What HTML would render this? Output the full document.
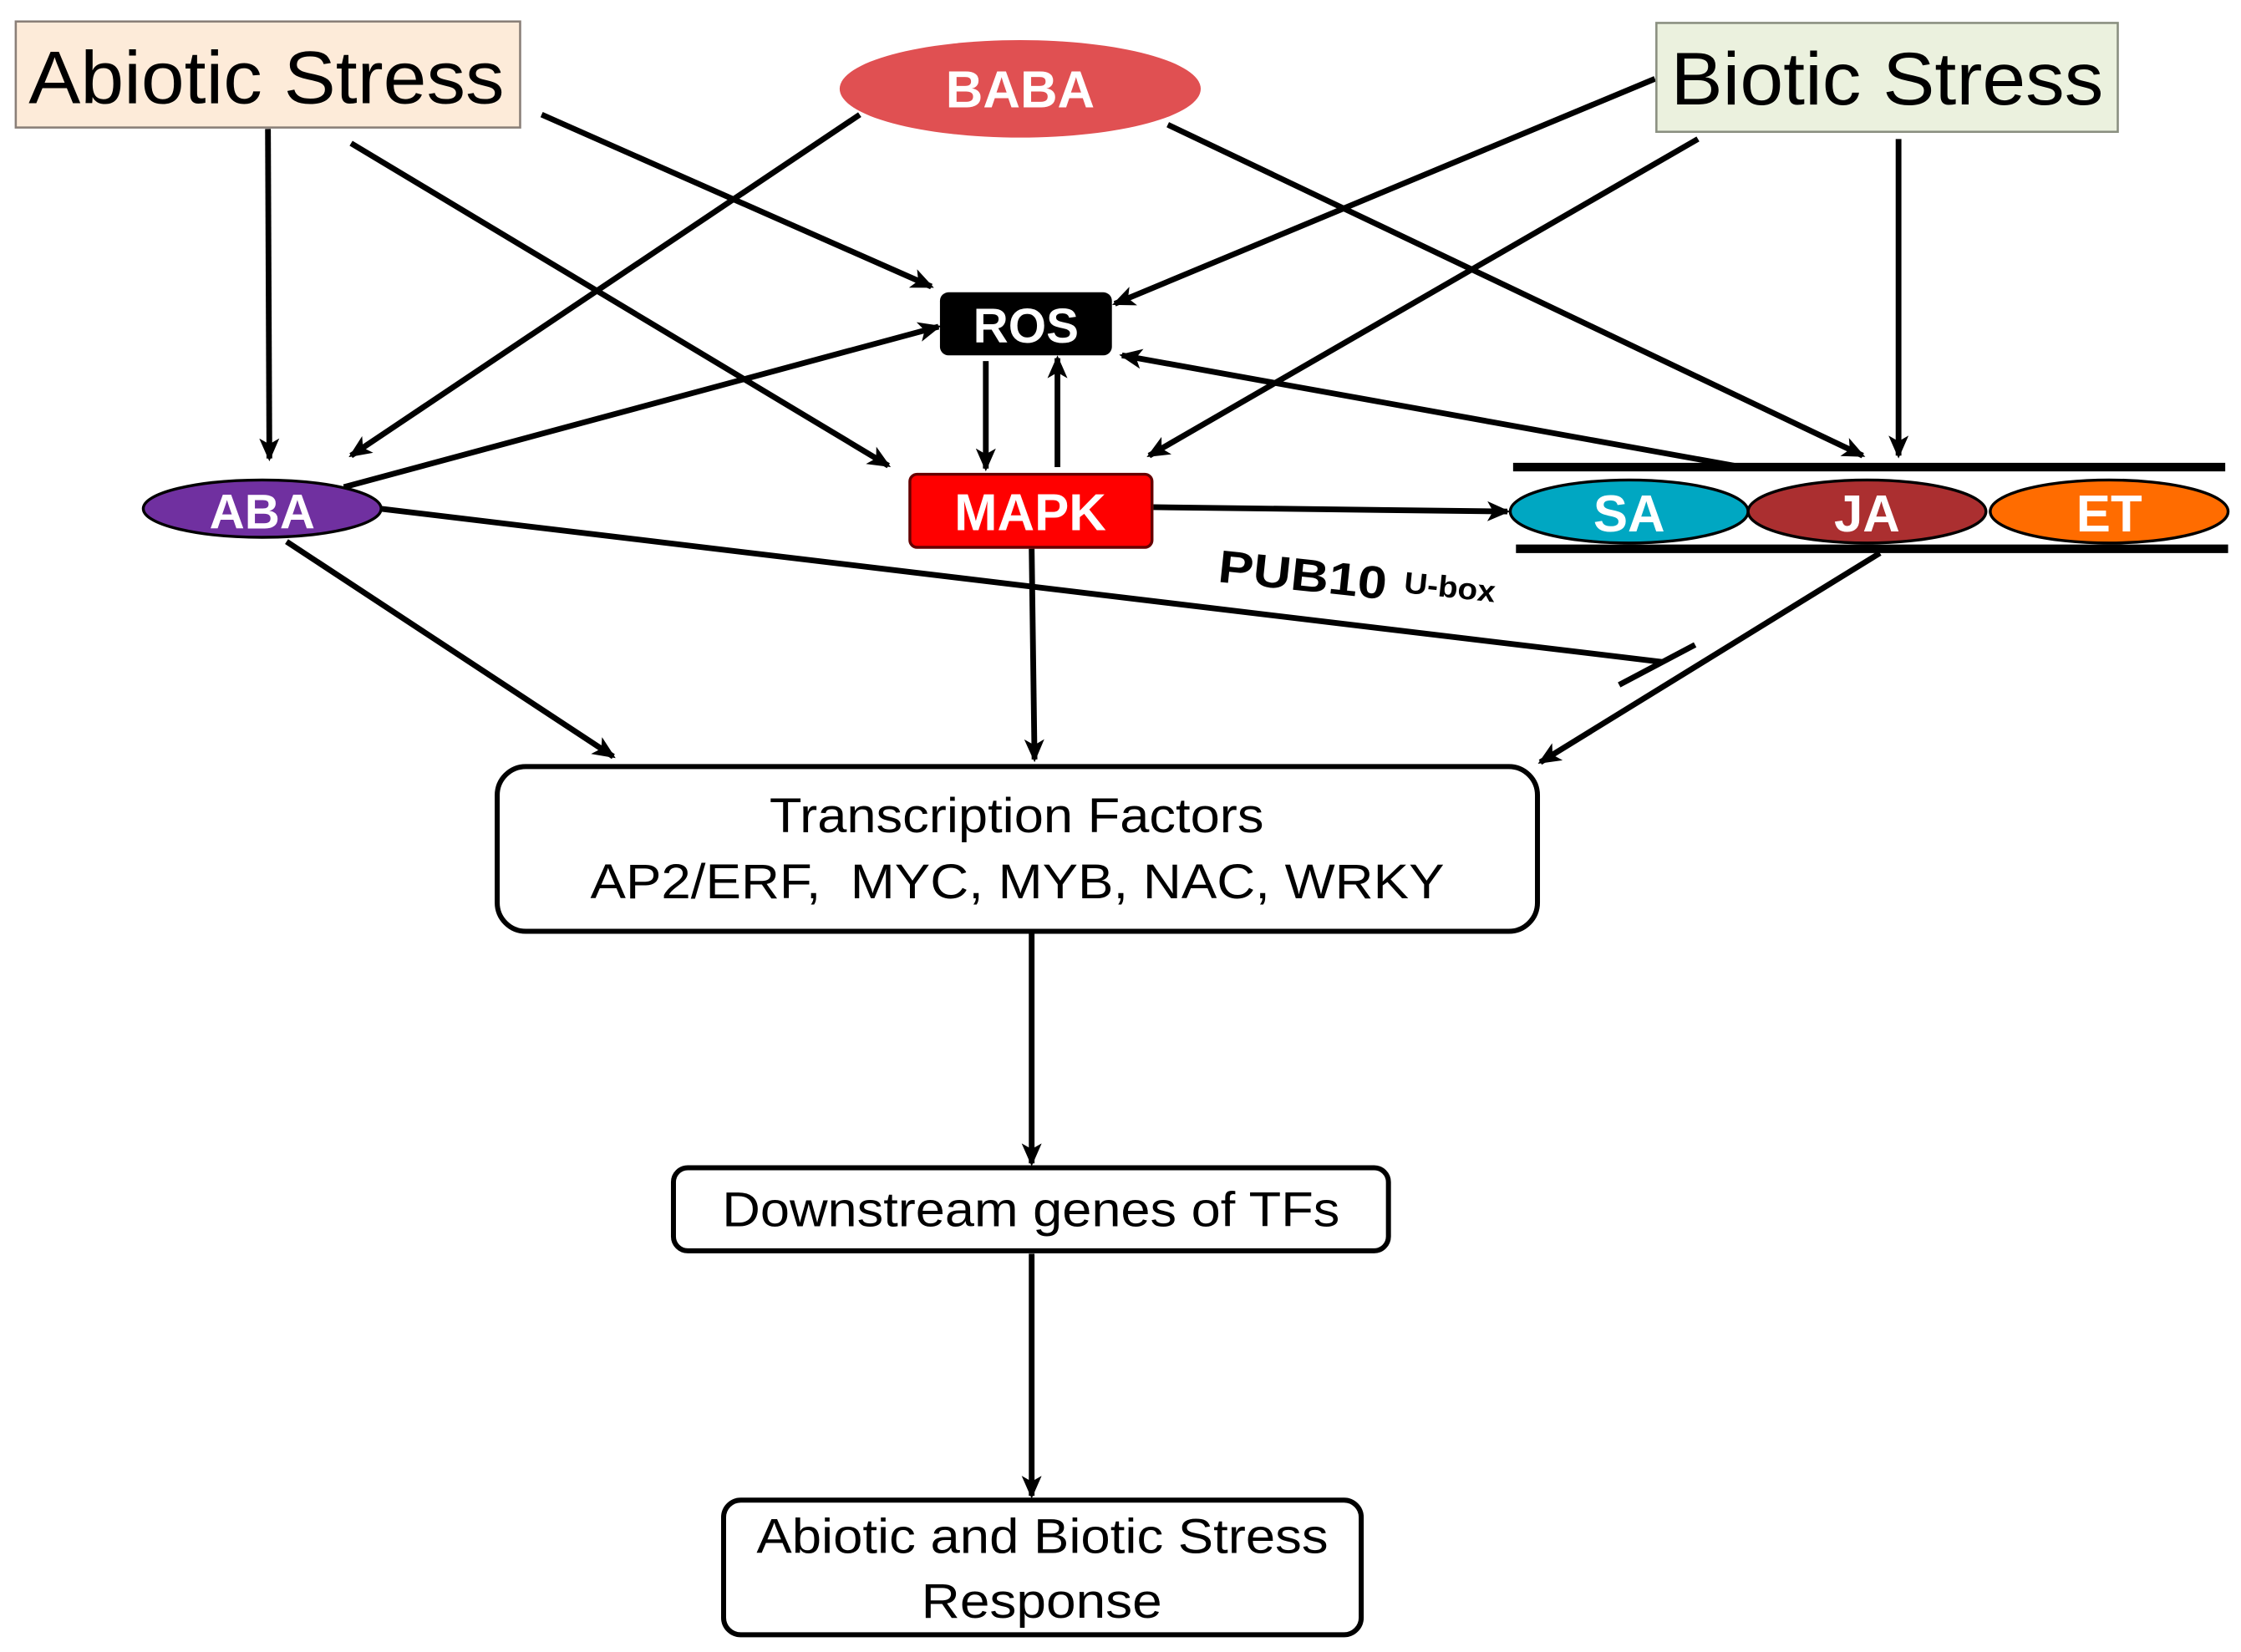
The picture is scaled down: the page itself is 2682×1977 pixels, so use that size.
<!DOCTYPE html>
<html><head><meta charset="utf-8"><style>html,body{margin:0;padding:0;background:#fff}svg{display:block}</style></head>
<body>
<svg width="2682" height="1977" viewBox="0 0 1564 1153" preserveAspectRatio="none" xmlns="http://www.w3.org/2000/svg" font-family="Liberation Sans, Arial, sans-serif">
<defs>
<marker id="b" markerWidth="16" markerHeight="14" refX="14" refY="7" orient="auto" markerUnits="userSpaceOnUse"><path d="M0,0 L16,7 L0,14 L4,7 z" fill="#000"/></marker>
</defs>
<g stroke="#000" stroke-width="4" fill="none" marker-end="url(#b)">
<line x1="187" y1="90" x2="188" y2="320"/>
<line x1="245" y1="100" x2="620" y2="325"/>
<line x1="378" y1="80" x2="650" y2="200"/>
<line x1="600" y1="80" x2="245" y2="318"/>
<line x1="815" y1="87" x2="1300" y2="318"/>
<line x1="1155" y1="55" x2="778" y2="212"/>
<line x1="1185" y1="97" x2="802" y2="318"/>
<line x1="1325" y1="97" x2="1325" y2="318"/>
<line x1="240" y1="340" x2="655" y2="228"/>
<line x1="1210" y1="325" x2="783" y2="248"/>
<line x1="688" y1="252" x2="688" y2="327"/>
<line x1="738" y1="326" x2="738" y2="250"/>
<line x1="805" y1="354" x2="1052" y2="357"/>
<line x1="200" y1="378" x2="428" y2="528"/>
<line x1="720" y1="383" x2="722" y2="530"/>
<line x1="1312" y1="386" x2="1075" y2="532"/>
<line x1="720" y1="651" x2="720" y2="812"/>
<line x1="720" y1="875" x2="720" y2="1044"/>
</g>
<g stroke="#000" stroke-width="4">
<line x1="265" y1="355" x2="1160" y2="462"/>
<line x1="1130" y1="478" x2="1183" y2="450"/>
<line x1="1056" y1="326" x2="1553" y2="326" stroke-width="6"/>
<line x1="1058" y1="383" x2="1555" y2="383" stroke-width="6"/>
</g>
<rect x="11" y="15" width="352" height="74" fill="#fdebd9" stroke="#8a7f78" stroke-width="1.5"/>
<text x="20" y="72" font-size="52" textLength="332" lengthAdjust="spacingAndGlyphs">Abiotic Stress</text>
<rect x="1156" y="16" width="322" height="76" fill="#ebf1de" stroke="#8a8f80" stroke-width="1.5"/>
<text x="1166" y="73" font-size="52" textLength="302" lengthAdjust="spacingAndGlyphs">Biotic Stress</text>
<ellipse cx="712" cy="62" rx="126" ry="34" fill="#e05052"/>
<text x="712" y="75" font-size="36" font-weight="bold" fill="#fff" text-anchor="middle">BABA</text>
<rect x="656" y="204" width="120" height="44" rx="6" fill="#000"/>
<text x="716" y="239" font-size="34" font-weight="bold" fill="#fff" text-anchor="middle">ROS</text>
<rect x="635" y="331" width="169" height="51" rx="5" fill="#ff0000" stroke="#600" stroke-width="2"/>
<text x="719" y="370" font-size="36" font-weight="bold" fill="#fff" text-anchor="middle">MAPK</text>
<ellipse cx="183" cy="355" rx="83" ry="20" fill="#7030a0" stroke="#000" stroke-width="2"/>
<text x="183" y="369" font-size="34" font-weight="bold" fill="#fff" text-anchor="middle">ABA</text>
<ellipse cx="1137" cy="357" rx="83" ry="22" fill="#00a7c2" stroke="#000" stroke-width="2"/>
<ellipse cx="1303" cy="357" rx="83" ry="22" fill="#ab2f30" stroke="#000" stroke-width="2"/>
<ellipse cx="1472" cy="357" rx="83" ry="22" fill="#ff6c00" stroke="#000" stroke-width="2"/>
<text x="1137" y="371" font-size="36" font-weight="bold" fill="#fff" text-anchor="middle">SA</text>
<text x="1303" y="371" font-size="36" font-weight="bold" fill="#fff" text-anchor="middle">JA</text>
<text x="1472" y="371" font-size="36" font-weight="bold" fill="#fff" text-anchor="middle">ET</text>
<g transform="rotate(6 850 400)">
<text x="850" y="406" font-size="32" font-weight="bold" textLength="118" lengthAdjust="spacingAndGlyphs">PUB10</text>
<text x="980" y="400" font-size="21" font-weight="bold" textLength="64" lengthAdjust="spacingAndGlyphs">U-box</text>
</g>
<rect x="347" y="535" width="726" height="115" rx="20" fill="#fff" stroke="#000" stroke-width="3.5"/>
<text x="537" y="581" font-size="34" textLength="345" lengthAdjust="spacingAndGlyphs">Transcription Factors</text>
<text x="412" y="627" font-size="34" textLength="596" lengthAdjust="spacingAndGlyphs" xml:space="preserve">AP2/ERF,  MYC, MYB, NAC, WRKY</text>
<rect x="470" y="815" width="499" height="58" rx="10" fill="#fff" stroke="#000" stroke-width="3.5"/>
<text x="504" y="856" font-size="34" textLength="431" lengthAdjust="spacingAndGlyphs">Downstream genes of TFs</text>
<rect x="505" y="1047" width="445" height="94" rx="12" fill="#fff" stroke="#000" stroke-width="3.5"/>
<text x="528" y="1084" font-size="34" textLength="399" lengthAdjust="spacingAndGlyphs">Abiotic and Biotic Stress</text>
<text x="643" y="1129" font-size="34" textLength="168" lengthAdjust="spacingAndGlyphs">Response</text>
</svg>
</body></html>
